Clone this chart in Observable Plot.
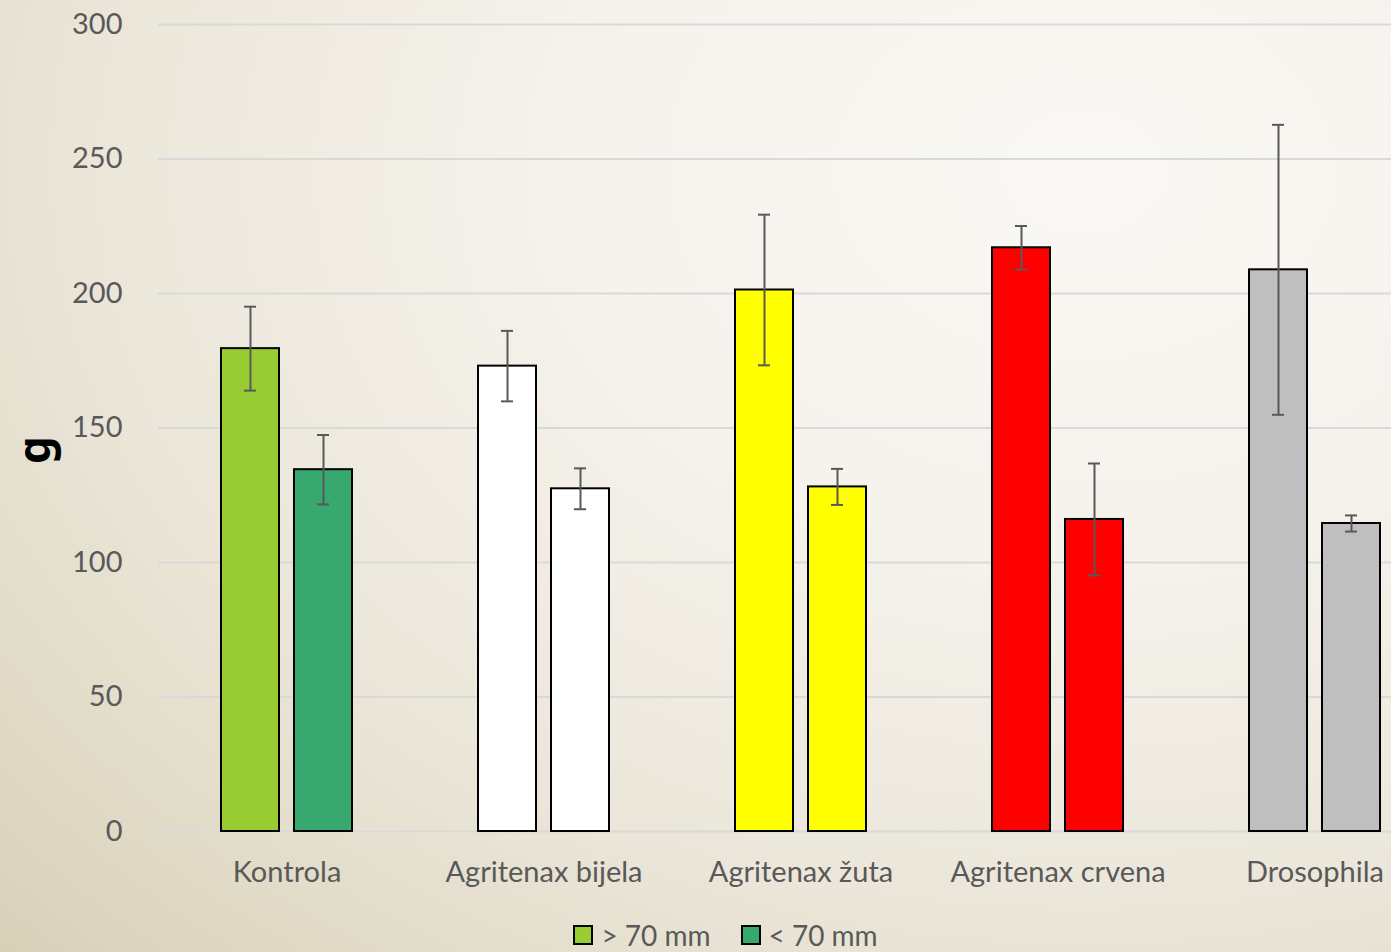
<!DOCTYPE html>
<html>
<head>
<meta charset="utf-8">
<script src="https://cdn.jsdelivr.net/npm/d3@7"></script>
<script src="https://cdn.jsdelivr.net/npm/@observablehq/plot@0.6"></script>
<style>
  html, body { margin: 0; padding: 0; }
  body {
    width: 1391px; height: 952px; overflow: hidden; position: relative;
    background: radial-gradient(ellipse 110% 120% at 78% 18%, #faf8f4 0%, #f5f2ec 35%, #ebe6d9 65%, #ddd6c1 90%, #d6cfb7 100%);
    font-family: Lato, sans-serif;
  }
  #chart svg { max-width: none !important; display: block; }
  #ylabel {
    position: absolute; left: 33px; top: 450px;
    transform: translate(-50%, -50%) rotate(-90deg);
    font-family: "Noto Sans", "Liberation Sans", sans-serif; font-weight: bold; font-size: 44px; color: #000;
    line-height: 1;
  }
  #legend {
    position: absolute; top: 916px; left: 0; width: 1391px;
    display: flex; justify-content: center; gap: 30px;
    font-family: Lato, sans-serif; font-size: 28px; color: #595959; line-height: 38px;
    padding-left: 60px; box-sizing: border-box;
  }
  #legend .item { display: flex; align-items: center; gap: 8px; }
  #legend .sw { width: 16px; height: 16px; border: 2px solid #000; }
</style>
</head>
<body>
<div id="chart"></div>
<div id="ylabel">g</div>
<div id="legend"></div>
<script>
const categories = ["Kontrola", "Agritenax bijela", "Agritenax žuta", "Agritenax crvena", "Drosophila"];
const series = ["> 70 mm", "< 70 mm"];
const meansLarge = [179.5, 173.0, 201.3, 217.0, 208.8];
const meansSmall = [134.5, 127.4, 128.1, 116.0, 114.5];
const errLarge = [15.6, 13.1, 28.0, 8.1, 53.9];
const errSmall = [12.9, 7.6, 6.7, 20.8, 3.0];
const yTicks = [0, 50, 100, 150, 200, 250, 300];
const fillLarge = ["#99cc33", "#ffffff", "#ffff00", "#ff0000", "#bfbfbf"];
const fillSmall = ["#37a86e", "#ffffff", "#ffff00", "#ff0000", "#bfbfbf"];

const rows = [];
categories.forEach((c, i) => {
  rows.push({cat: c, series: series[0], value: meansLarge[i], lo: meansLarge[i] - errLarge[i], hi: meansLarge[i] + errLarge[i], color: fillLarge[i]});
  rows.push({cat: c, series: series[1], value: meansSmall[i], lo: meansSmall[i] - errSmall[i], hi: meansSmall[i] + errSmall[i], color: fillSmall[i]});
});

const errStyle = {stroke: "#595959", strokeWidth: 2};

const chart = Plot.plot({
  width: 1443,
  height: 900,
  marginLeft: 158,
  marginRight: 0,
  marginTop: 24,
  marginBottom: 69,
  style: {background: "transparent", fontFamily: "Lato, sans-serif", fontSize: "29px", color: "#595959", maxWidth: "none", overflow: "visible"},
  fx: {domain: categories, padding: 0, label: null, axis: "bottom", tickSize: 0, tickPadding: 30},
  x: {domain: series, paddingInner: 0.2055, paddingOuter: 0.863, axis: null},
  y: {domain: [0, 300], ticks: yTicks, tickSize: 0, tickPadding: 36, label: null},
  color: {type: "identity"},
  marks: [
    Plot.ruleY(yTicks, {stroke: "#d9d9d9", strokeWidth: 2}),
    Plot.barY(rows, {fx: "cat", x: "series", y: "value", fill: "color", stroke: "#000", strokeWidth: 2}),
    Plot.ruleX(rows, {fx: "cat", x: "series", y1: "lo", y2: "hi", ...errStyle}),
    Plot.tickY(rows, {fx: "cat", x: "series", y: "lo", insetLeft: 23, insetRight: 23, ...errStyle}),
    Plot.tickY(rows, {fx: "cat", x: "series", y: "hi", insetLeft: 23, insetRight: 23, ...errStyle})
  ]
});
document.getElementById("chart").appendChild(chart);

const legend = d3.select("#legend");
const legendFills = [fillLarge[0], fillSmall[0]];
series.forEach((s, i) => {
  const item = legend.append("div").attr("class", "item");
  item.append("div").attr("class", "sw").style("background", legendFills[i]);
  item.append("span").text(s);
});
</script>
</body>
</html>
